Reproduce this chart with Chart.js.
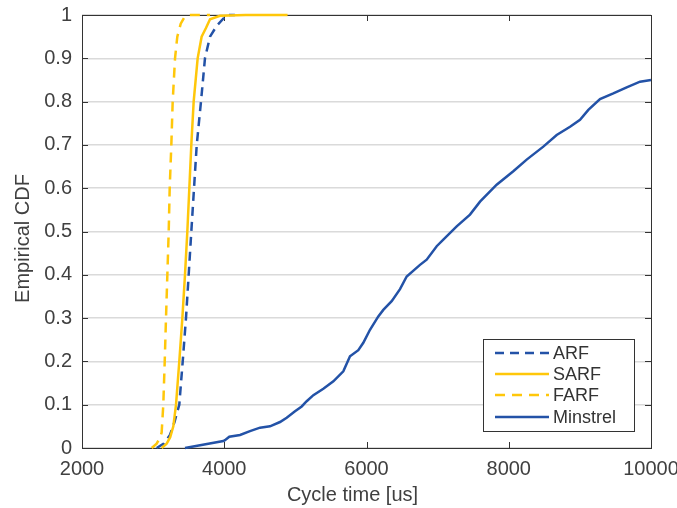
<!DOCTYPE html>
<html>
<head>
<meta charset="utf-8">
<script src="https://cdn.jsdelivr.net/npm/chart.js@4.4.1/dist/chart.umd.min.js"></script>
<style>
  html, body { margin: 0; padding: 0; background: #ffffff; }
  #wrap { width: 677px; height: 508px; }
</style>
</head>
<body>
<div id="wrap"><canvas id="cdf" width="677" height="508"></canvas></div>
<script>
// Empirical CDFs of the cycle time for each rate-control scheme.
const arfTime  = [3050, 3150, 3237, 3300, 3368, 3416, 3462, 3500, 3537, 3575, 3613, 3673, 3729, 3800, 3894, 4034, 4150];
const arfCdf   = [0, 0.01, 0.03, 0.06, 0.1, 0.2, 0.3, 0.4, 0.5, 0.6, 0.7, 0.8, 0.9, 0.95, 0.975, 1, 1];

const sarfTime = [3120, 3190, 3240, 3284, 3322, 3368, 3411, 3448, 3481, 3509, 3537, 3570, 3626, 3682, 3743, 3800, 3940, 4300, 4890];
const sarfCdf  = [0, 0.01, 0.025, 0.05, 0.1, 0.2, 0.3, 0.4, 0.5, 0.6, 0.7, 0.8, 0.9, 0.95, 0.97, 0.99, 0.998, 1, 1];

const farfTime = [2980, 3050, 3100, 3120, 3143, 3163, 3181, 3200, 3219, 3233, 3256, 3275, 3308, 3340, 3388, 3440, 3500, 3800];
const farfCdf  = [0, 0.01, 0.025, 0.036, 0.1, 0.2, 0.3, 0.4, 0.5, 0.6, 0.7, 0.8, 0.9, 0.95, 0.98, 0.995, 1, 1];

const minstrelTime = [3448, 3987, 4010, 4071, 4222, 4362, 4503, 4643, 4784, 4878, 4995, 5089, 5159, 5253, 5393,
                      5534, 5674, 5768, 5885, 5955, 6049, 6166, 6236, 6354, 6471, 6565, 6752, 6846, 6987, 7080,
                      7268, 7455, 7596, 7830, 8064, 8252, 8486, 8674, 8862, 9002, 9119, 9283, 9470, 9658, 9846, 10000];
const minstrelCdf  = [0, 0.016, 0.018, 0.026, 0.030, 0.039, 0.047, 0.050, 0.06, 0.07, 0.085, 0.096, 0.108, 0.122, 0.137,
                      0.154, 0.177, 0.212, 0.226, 0.243, 0.273, 0.304, 0.319, 0.339, 0.367, 0.396, 0.423, 0.435, 0.466, 0.481,
                      0.512, 0.539, 0.569, 0.608, 0.639, 0.666, 0.696, 0.723, 0.742, 0.758, 0.781, 0.806, 0.819, 0.833, 0.846, 0.85];

const seriesNames = ['ARF', 'SARF', 'FARF', 'Minstrel'];

const xTicks = [2000, 4000, 6000, 8000, 10000];
const xTickLabels = ['2000', '4000', '6000', '8000', '10000'];
const yTicks = [0, 0.1, 0.2, 0.3, 0.4, 0.5, 0.6, 0.7, 0.8, 0.9, 1];
const yTickLabels = ['0', '0.1', '0.2', '0.3', '0.4', '0.5', '0.6', '0.7', '0.8', '0.9', '1'];

const xTitle = 'Cycle time [us]';
const yTitle = 'Empirical CDF';

const BLUE = '#2352a7';
const GOLD = '#ffc70a';
const INK = '#404040';
const FONT = '"Liberation Sans", Arial, Helvetica, sans-serif';

const pts = (xs, ys) => xs.map((x, i) => ({ x: x, y: ys[i] }));

// Box around the axes with inward tick marks on all four sides.
const frame = {
  id: 'frame',
  beforeDatasetsDraw(chart) {
    const { ctx, chartArea: a, scales: { x, y } } = chart;
    ctx.save();
    ctx.strokeStyle = '#333333';
    ctx.lineWidth = 1;
    ctx.strokeRect(Math.round(a.left) + 0.5, Math.round(a.top) + 0.5,
                   Math.round(a.right - a.left), Math.round(a.bottom - a.top));
    const len = 6;
    ctx.beginPath();
    xTicks.forEach(v => {
      const px = Math.round(x.getPixelForValue(v)) + 0.5;
      ctx.moveTo(px, a.bottom); ctx.lineTo(px, a.bottom - len);
      ctx.moveTo(px, a.top); ctx.lineTo(px, a.top + len);
    });
    yTicks.forEach(v => {
      const py = Math.round(y.getPixelForValue(v)) + 0.5;
      ctx.moveTo(a.left, py); ctx.lineTo(a.left + len, py);
      ctx.moveTo(a.right, py); ctx.lineTo(a.right - len, py);
    });
    ctx.stroke();
    ctx.restore();
  },
  afterDraw(chart) {
    const { ctx, chartArea: a } = chart;
    ctx.save();
    ctx.fillStyle = INK;
    ctx.font = '20px ' + FONT;
    ctx.textAlign = 'center';
    ctx.textBaseline = 'alphabetic';
    ctx.fillText(xTitle, (a.left + a.right) / 2 - 14, 501);
    ctx.translate(29, (a.top + a.bottom) / 2 + 7);
    ctx.rotate(-Math.PI / 2);
    ctx.fillText(yTitle, 0, 0);
    ctx.restore();
  }
};

// Legend box in the lower right of the axes, built from the dataset styles.
const boxLegend = {
  id: 'boxLegend',
  afterDraw(chart) {
    const { ctx } = chart;
    const bx = 483, by = 339, bw = 151, bh = 92;
    ctx.save();
    ctx.fillStyle = '#ffffff';
    ctx.fillRect(bx, by, bw, bh);
    ctx.strokeStyle = '#333333';
    ctx.lineWidth = 1;
    ctx.strokeRect(bx + 0.5, by + 0.5, bw, bh);
    const rows = [353, 374, 395, 417];
    chart.data.datasets.forEach((ds, i) => {
      const ry = rows[i];
      ctx.strokeStyle = ds.borderColor;
      ctx.lineWidth = ds.borderWidth;
      ctx.setLineDash(ds.borderDash || []);
      ctx.beginPath();
      ctx.moveTo(495, ry); ctx.lineTo(549, ry);
      ctx.stroke();
      ctx.setLineDash([]);
      ctx.fillStyle = '#333333';
      ctx.font = '18px ' + FONT;
      ctx.textAlign = 'left';
      ctx.textBaseline = 'middle';
      ctx.fillText(ds.label, 553, ry + 1);
    });
    ctx.restore();
  }
};

const mkSet = (i, xs, ys, color, dash, order) => ({
  label: seriesNames[i],
  data: pts(xs, ys),
  borderColor: color,
  backgroundColor: color,
  borderWidth: 2.5,
  borderDash: dash,
  pointRadius: 0,
  tension: 0,
  fill: false,
  clip: 4,
  order: order
});

new Chart(document.getElementById('cdf'), {
  type: 'line',
  data: {
    datasets: [
      mkSet(0, arfTime, arfCdf, BLUE, [9, 6], 4),
      mkSet(1, sarfTime, sarfCdf, GOLD, [], 3),
      mkSet(2, farfTime, farfCdf, GOLD, [10, 7], 2),
      mkSet(3, minstrelTime, minstrelCdf, BLUE, [], 1)
    ]
  },
  options: {
    responsive: false,
    animation: false,
    devicePixelRatio: 1,
    layout: { padding: { top: 15, right: 26, left: 0, bottom: 0 } },
    plugins: { legend: { display: false }, tooltip: { enabled: false } },
    scales: {
      x: {
        type: 'linear',
        min: 2000, max: 10000,
        afterBuildTicks: s => { s.ticks = xTicks.map(v => ({ value: v })); },
        afterFit: s => { s.height = 60; s.paddingLeft = 0; s.paddingRight = 0; },
        ticks: {
          color: INK,
          font: { family: FONT, size: 20 },
          padding: 9,
          maxRotation: 0,
          autoSkip: false,
          callback: (v, i) => xTickLabels[i]
        },
        grid: { display: false, drawTicks: false },
        border: { display: false },
        title: { display: false }
      },
      y: {
        type: 'linear',
        min: 0, max: 1,
        afterBuildTicks: s => { s.ticks = yTicks.map(v => ({ value: v })); },
        afterFit: s => { s.width = 82; s.paddingTop = 0; s.paddingBottom = 0; },
        ticks: {
          color: INK,
          font: { family: FONT, size: 20 },
          padding: 10,
          autoSkip: false,
          callback: (v, i) => yTickLabels[i]
        },
        grid: { color: '#dadada', lineWidth: 1.5, drawTicks: false },
        border: { display: false },
        title: { display: false }
      }
    }
  },
  plugins: [frame, boxLegend]
});
</script>
</body>
</html>
